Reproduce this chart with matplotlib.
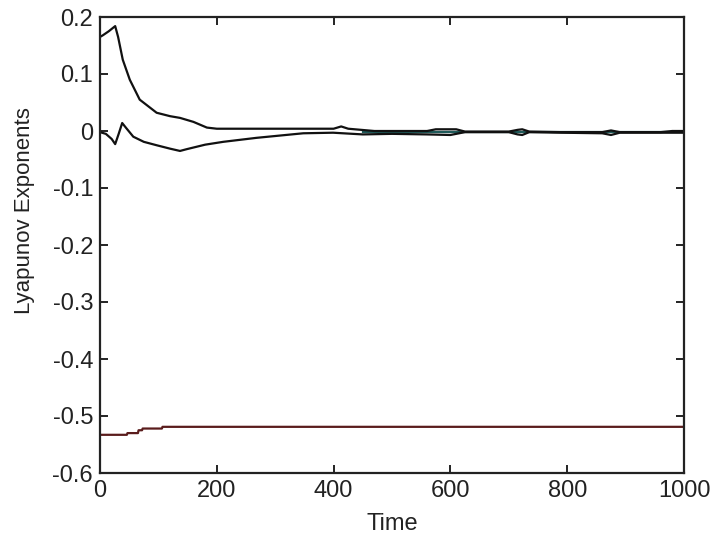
import matplotlib
matplotlib.use("Agg")
import matplotlib.pyplot as plt

plt.rcParams["font.family"] = ["Liberation Sans", "DejaVu Sans"]

# exponent 1 (starts positive, decays to ~0)
T1 = [0, 5, 15, 26, 31, 39, 51, 68, 97, 120, 137, 160, 183, 200, 300, 400, 413, 425,
      470, 560, 575, 610, 625, 700, 715, 723, 735, 790, 860, 875, 890, 960, 980, 1000]
L1 = [0.165, 0.168, 0.175, 0.184, 0.165, 0.125, 0.09, 0.055, 0.032, 0.026, 0.023, 0.016,
      0.006, 0.004, 0.004, 0.004, 0.008, 0.004, 0.0, 0.0, 0.003, 0.003, -0.001, -0.001,
      0.002, 0.003, -0.001, -0.002, -0.002, 0.001, -0.002, -0.002, 0.0, 0.0]

# exponent 2 (starts at 0, dips, recovers to ~0)
T2 = [0, 10, 20, 26, 32, 38, 45, 57, 75, 97, 120, 137, 148, 180, 211, 268, 348, 399,
      450, 500, 560, 600, 625, 700, 715, 723, 735, 790, 860, 875, 890, 960, 1000]
L2 = [-0.002, -0.005, -0.014, -0.023, -0.005, 0.014, 0.005, -0.01, -0.019, -0.025,
      -0.031, -0.035, -0.032, -0.024, -0.019, -0.012, -0.004, -0.003, -0.006, -0.005,
      -0.006, -0.007, -0.002, -0.002, -0.006, -0.007, -0.002, -0.003, -0.004, -0.007,
      -0.003, -0.003, -0.003]

# exponent 3 (close to zero)
T3 = [450, 600, 700, 800, 900, 1000]
L3 = [-0.002, -0.002, -0.002, -0.002, -0.002, -0.002]

# exponent 4 (negative)
T4 = [0, 46, 47, 65, 66, 72, 73, 106, 107, 1000]
L4 = [-0.533, -0.533, -0.530, -0.530, -0.525, -0.525, -0.522, -0.522, -0.519, -0.519]

fig = plt.figure(figsize=(7.14, 5.37), dpi=100)
ax = fig.add_axes([100 / 714, 1 - 473 / 537, 584 / 714, 456 / 537])

ax.plot(T3, L3, color="#1f5a5a", linewidth=1.6)
ax.plot(T1, L1, color="#111111", linewidth=1.6)
ax.plot(T2, L2, color="#111111", linewidth=1.6)
ax.plot(T4, L4, color="#5a1c1c", linewidth=1.6)

ax.set_xlim(0, 1000)
ax.set_ylim(-0.6, 0.2)
ax.set_xticks([0, 200, 400, 600, 800, 1000])
ax.set_yticks([0.2, 0.1, 0, -0.1, -0.2, -0.3, -0.4, -0.5, -0.6])
ax.set_yticklabels(["0.2", "0.1", "0", "-0.1", "-0.2", "-0.3", "-0.4", "-0.5", "-0.6"])
ax.tick_params(direction="in", length=6, width=1.4, top=True, right=True,
               labelsize=17, pad=5, colors="#222222")
for s in ax.spines.values():
    s.set_linewidth(1.6)
    s.set_color("#222222")

ax.set_xlabel("Time", fontsize=17, labelpad=8, color="#222222")
ax.set_ylabel("Lyapunov Exponents", fontsize=16, color="#222222")
ax.yaxis.set_label_coords(-0.111, 0.575)

fig.savefig("out.png", dpi=100)
